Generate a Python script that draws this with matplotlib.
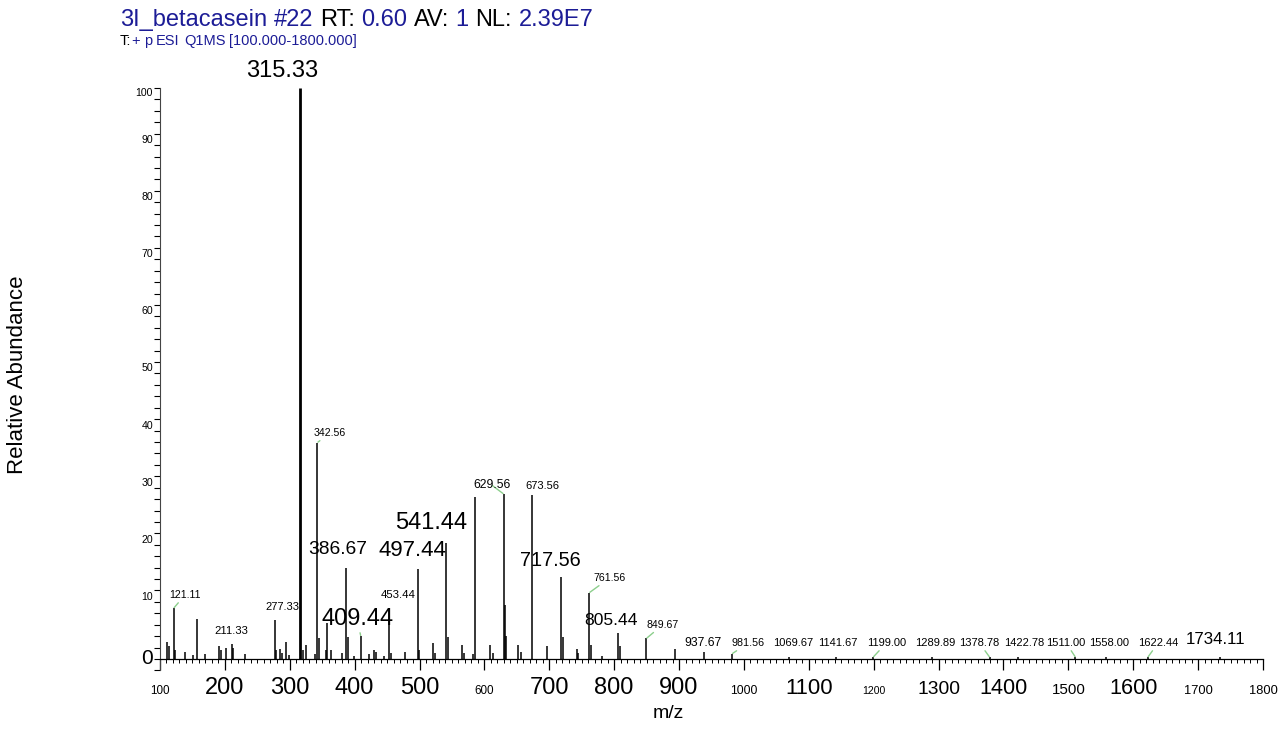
import matplotlib
matplotlib.use("Agg")
import matplotlib.pyplot as plt
from matplotlib import font_manager
from matplotlib.ticker import MultipleLocator

W, H, DPI = 1285, 733, 100

# labelled peaks: m/z and relative abundance (%)
label_mz = [121.11, 211.33, 277.33, 315.33, 342.56, 386.67, 409.44, 453.44,
            497.44, 541.44, 629.56, 673.56, 717.56, 761.56, 805.44, 849.67,
            937.67, 981.56, 1069.67, 1141.67, 1199.00, 1289.89, 1378.78,
            1422.78, 1511.00, 1558.00, 1622.44, 1734.11]
label_int = [8.9, 2.6, 6.8, 100.0, 37.9, 16.0, 4.0, 9.0,
             15.7, 20.4, 28.9, 28.7, 14.3, 11.6, 4.6, 3.6,
             1.2, 0.9, 0.4, 0.3, 0.3, 0.3, 0.3,
             0.3, 0.3, 0.3, 0.3, 0.3]

# unlabelled peaks
minor_mz = [111.0, 114.0, 123.5, 138.5, 151.0, 157.0, 169.5, 191.0, 193.5,
            202.0, 213.0, 230.5, 279.5, 284.5, 288.0, 293.5, 299.0, 321.0,
            324.5, 339.0, 345.0, 355.5, 358.0, 363.0, 381.0, 389.5, 399.0,
            422.0, 430.0, 432.5, 445.0, 455.8, 478.0, 499.5, 520.0, 524.0,
            543.5, 565.0, 568.7, 583.0, 585.5, 609.0, 613.5, 631.5, 633.5,
            652.5, 656.0, 697.0, 720.5, 742.0, 745.0, 764.0, 781.0, 808.5,
            893.6]
minor_int = [3.0, 2.2, 1.5, 1.2, 0.7, 7.0, 0.9, 2.3, 1.5,
             1.9, 2.0, 0.8, 1.5, 1.8, 1.1, 3.0, 0.7, 1.5,
             2.5, 0.8, 3.7, 1.6, 6.3, 1.5, 1.1, 3.8, 0.5,
             0.8, 1.5, 1.2, 0.5, 1.0, 1.2, 1.5, 2.8, 1.0,
             3.9, 2.5, 1.0, 0.8, 28.3, 2.5, 1.0, 9.4, 4.0,
             2.4, 1.2, 2.2, 3.9, 1.7, 1.0, 2.5, 0.6, 2.2,
             1.8]

x_ticks = list(range(100, 1900, 100))
y_ticks = list(range(0, 110, 10))

# ---- layout / style (not data) ----
# label text position in data coords, font size, regular font?, leader line?
label_pos = [(138.5, 11.2), (210.6, 4.9), (288.1, 9.1), (288.0, 103.0),
             (362.0, 39.6), (374.5, 19.1), (403.8, 7.0), (467.0, 11.2),
             (488.6, 19.0), (517.9, 23.8), (612.0, 30.4), (688.6, 30.3),
             (701.4, 17.3), (793.1, 14.2), (795.4, 6.7), (874.9, 6.0),
             (937.3, 2.85), (1006.7, 2.8), (1075.6, 2.8), (1144.7, 2.8),
             (1219.5, 2.8), (1295.1, 2.8), (1362.9, 2.8), (1432.3, 2.8),
             (1496.6, 2.8), (1563.4, 2.8), (1638.4, 2.8), (1727.6, 3.45)]
label_size = [9, 9.7, 9.5, 17, 9, 16.5, 17, 9.8,
              16, 17, 10.5, 9.5, 17, 9, 15, 9,
              10.5, 9.2, 9.5, 9.5, 9.5, 9.5, 9.5, 9.5,
              9.5, 9.5, 9.5, 14.5]
label_regular = [315.33, 409.44, 497.44, 541.44]
leader = [121.11, 342.56, 409.44, 629.56, 761.56, 849.67, 981.56,
          1199.00, 1378.78, 1511.00, 1622.44]

xtick_size = [10, 17, 17, 17, 17, 10, 17, 17, 17, 10.5, 19, 9, 16.5, 18.5,
              13, 18.5, 11, 11]
xtick_regular = [200, 300, 400, 500, 700, 800, 900]

BLUE = "#1c1c96"
GREEN = "#8ccf8c"

names = {f.name for f in font_manager.fontManager.ttflist}
if "Liberation Sans Narrow" in names:
    NARROW, NSCALE = "Liberation Sans Narrow", 1.0
else:
    NARROW, NSCALE = "Liberation Sans", 0.84
REG = "Liberation Sans"


def font(size, regular=False):
    if regular:
        return dict(family=REG, fontsize=size)
    return dict(family=NARROW, fontsize=size * NSCALE)


def put_runs(fig, x_px, base_px, runs, size):
    renderer = fig.canvas.get_renderer()
    space = 0.278 * size * DPI / 72
    x = x_px
    for text, color, gap in runs:
        x += gap * space
        t = fig.text(x / W, 1 - base_px / H, text, color=color, family=REG,
                     fontsize=size, ha="left", va="baseline")
        x = t.get_window_extent(renderer).x1


fig = plt.figure(figsize=(W / DPI, H / DPI), dpi=DPI)
# y axis runs a little below zero (to -2), the m/z axis sits at 0
ax = fig.add_axes([160 / W, 1 - 670.4 / H, 1103 / W, 582.4 / H])

all_mz = label_mz + minor_mz
all_int = label_int + minor_int
widths = [2.0 if v > 50 else 1.1 for v in all_int]
ax.vlines(all_mz, 0, all_int, colors="black", linewidths=widths)

for mz, inten, pos, size in zip(label_mz, label_int, label_pos, label_size):
    txt = f"{mz:.2f}"
    fp = font(size, mz in label_regular)
    if mz in leader:
        ax.annotate(txt, xy=(mz, inten), xytext=pos, ha="center",
                    va="center", annotation_clip=False,
                    arrowprops=dict(arrowstyle="-", color=GREEN, lw=1.0,
                                    shrinkA=0, shrinkB=0.5), **fp)
    else:
        ax.text(pos[0], pos[1], txt, ha="center", va="center",
                clip_on=False, **fp)

ax.set_xlim(100, 1800)
ax.set_ylim(-2, 100)
for s in ["top", "right"]:
    ax.spines[s].set_visible(False)
ax.spines["bottom"].set_position(("data", 0))
ax.spines["left"].set_linewidth(0.8)
ax.spines["left"].set_color("#444444")
ax.spines["bottom"].set_linewidth(0.9)

ax.set_xticks(x_ticks)
ax.set_xticklabels([str(t) for t in x_ticks])
ax.xaxis.set_minor_locator(MultipleLocator(10))
ax.tick_params(axis="x", which="major", length=8, width=0.9, pad=17.3)
ax.tick_params(axis="x", which="minor", length=3, width=0.7)
for lbl, t, size in zip(ax.get_xticklabels(), x_ticks, xtick_size):
    lbl.set(**font(size, t in xtick_regular))
    lbl.set_va("baseline")

ax.set_yticks(y_ticks)
ax.set_yticklabels([str(t) for t in y_ticks])
ax.yaxis.set_minor_locator(MultipleLocator(2))
ax.tick_params(axis="y", which="both", length=4, width=0.8, pad=1)
for lbl, t in zip(ax.get_yticklabels(), y_ticks):
    if t == 0:
        lbl.set(**font(15, True))
        lbl.set_va("center")
    else:
        lbl.set(**font(9))
        lbl.set_va("top" if t == 100 else "bottom")

fig.text(18 / W, 1 - 375 / H, "Relative Abundance", rotation=90,
         ha="center", va="center", family=REG, fontsize=16)
fig.text(668 / W, 1 - 714 / H, "m/z", ha="center", va="center",
         family=REG, fontsize=14)

put_runs(fig, 120, 26, [("3I_betacasein", BLUE, 0), ("#22", BLUE, 1),
                        ("RT:", "black", 1), ("0.60", BLUE, 1),
                        ("AV:", "black", 1), ("1", BLUE, 1),
                        ("NL:", "black", 1), ("2.39E7", BLUE, 1)], 17)
put_runs(fig, 120, 45, [("T:", "black", 0), ("+", BLUE, 0), ("p", BLUE, 1),
                        ("ESI", BLUE, 1), ("Q1MS", BLUE, 1),
                        ("[100.000-1800.000]", BLUE, 1)], 10.5)

fig.savefig("out.png", dpi=DPI)
